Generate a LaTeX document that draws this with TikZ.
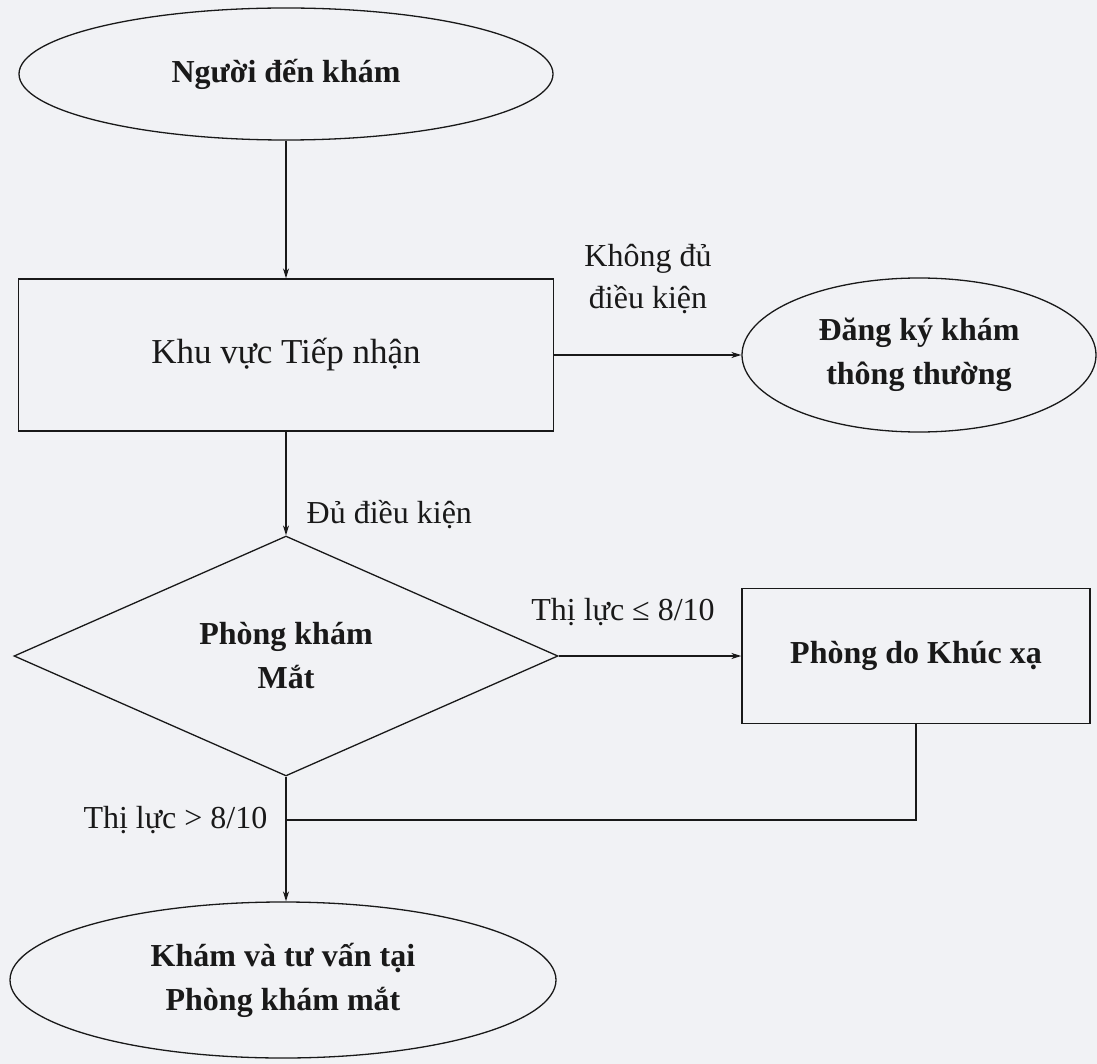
\documentclass[tikz,border=0pt]{standalone}
\usepackage{fontspec}
\setmainfont{Liberation Serif}
\usetikzlibrary{shapes.geometric,arrows.meta}
\definecolor{paper}{RGB}{241,242,245}
\definecolor{ink}{RGB}{25,25,25}
\newcommand\flowbold{\fontsize{32}{44}\selectfont\bfseries}
\newcommand\flowbig{\fontsize{35}{42}\selectfont}
\newcommand\flowreg{\fontsize{32}{42}\selectfont}
\begin{document}
\begin{tikzpicture}[x=1pt,y=-1pt,line width=1.3pt,
  oval/.style={draw=ink,ellipse,inner sep=0pt,align=center,font=\flowbold,text=ink},
  box/.style={draw=ink,rectangle,inner sep=0pt,align=center,font=\flowbold,text=ink},
  choice/.style={draw=ink,diamond,inner sep=0pt,align=center,font=\flowbold,text=ink},
  lbl/.style={inner sep=0pt,align=center,font=\flowreg,text=ink},
  arr/.style={draw=ink,-{Stealth[length=10pt,width=6pt]}},
  conn/.style={draw=ink}]
\fill[paper] (0,0) rectangle (1097,1064);
\useasboundingbox (0,0) rectangle (1097,1064);

\node[oval,minimum width=534pt,minimum height=132pt] (start) at (286,74) {Người đến khám};
\node[box,minimum width=535pt,minimum height=152pt,font=\flowbig] (recv) at (286,355) {Khu vực Tiếp nhận};
\node[oval,minimum width=354pt,minimum height=154pt] (normal) at (919,355) {Đăng ký khám\\thông thường};
\node[choice,minimum width=544pt,minimum height=164pt] (eye) at (286,656) {Phòng khám\\Mắt};
\node[box,minimum width=348pt,minimum height=135pt] (refr) at (916,656) {Phòng do Khúc xạ};
\node[oval,minimum width=546pt,minimum height=156pt] (consult) at (283,980) {Khám và tư vấn tại\\Phòng khám mắt};
\coordinate (join) at (286,820);

\node[lbl] (l1) at (648,279) {Không đủ\\điều kiện};
\node[lbl,anchor=west] (l2) at (306,515) {Đủ điều kiện};
\node[lbl] (l3) at (623,612) {Thị lực ≤ 8/10};
\node[lbl,anchor=east] (l4) at (268,820) {Thị lực > 8/10};

\draw[arr] (start.south) -- (start.south |- recv.north);
\draw[arr] (recv.east) -- (normal.west);
\draw[arr] (recv.south) -- (eye.north);
\draw[arr] (eye.east) -- (refr.west);
\draw[arr] (eye.south) -- (eye.south |- consult.north);
\draw[conn] (refr.south) |- (join);
\end{tikzpicture}
\end{document}
